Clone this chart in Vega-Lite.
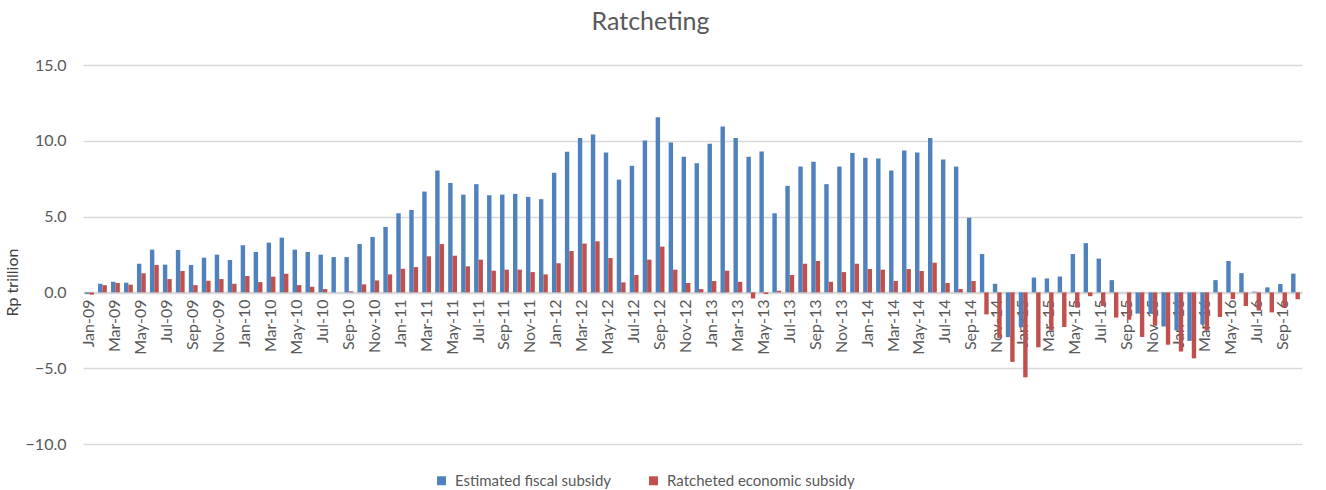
{
  "$schema": "https://vega.github.io/schema/vega-lite/v6.json",
  "width": 1219,
  "height": 379,
  "autosize": "none",
  "padding": {"left": 83, "top": 65, "right": 24, "bottom": 46},
  "background": "white",
  "title": {"text": "Ratcheting", "fontSize": 25, "font": "Lato", "color": "#595959", "fontWeight": "normal", "anchor": "middle", "offset": 22, "dx": -42},
  "config": {"view": {"stroke": null}, "font": "Lato"},
  "data": {"values": [
    {"month": "Jan-09", "Estimated fiscal subsidy": -0.1, "Ratcheted economic subsidy": -0.15},
    {"month": "Feb-09", "Estimated fiscal subsidy": 0.57, "Ratcheted economic subsidy": 0.48},
    {"month": "Mar-09", "Estimated fiscal subsidy": 0.70, "Ratcheted economic subsidy": 0.62},
    {"month": "Apr-09", "Estimated fiscal subsidy": 0.64, "Ratcheted economic subsidy": 0.51},
    {"month": "May-09", "Estimated fiscal subsidy": 1.89, "Ratcheted economic subsidy": 1.26},
    {"month": "Jun-09", "Estimated fiscal subsidy": 2.82, "Ratcheted economic subsidy": 1.81},
    {"month": "Jul-09", "Estimated fiscal subsidy": 1.83, "Ratcheted economic subsidy": 0.88},
    {"month": "Aug-09", "Estimated fiscal subsidy": 2.80, "Ratcheted economic subsidy": 1.41},
    {"month": "Sep-09", "Estimated fiscal subsidy": 1.81, "Ratcheted economic subsidy": 0.48},
    {"month": "Oct-09", "Estimated fiscal subsidy": 2.29, "Ratcheted economic subsidy": 0.77},
    {"month": "Nov-09", "Estimated fiscal subsidy": 2.49, "Ratcheted economic subsidy": 0.88},
    {"month": "Dec-09", "Estimated fiscal subsidy": 2.14, "Ratcheted economic subsidy": 0.57},
    {"month": "Jan-10", "Estimated fiscal subsidy": 3.11, "Ratcheted economic subsidy": 1.08},
    {"month": "Feb-10", "Estimated fiscal subsidy": 2.67, "Ratcheted economic subsidy": 0.68},
    {"month": "Mar-10", "Estimated fiscal subsidy": 3.28, "Ratcheted economic subsidy": 1.04},
    {"month": "Apr-10", "Estimated fiscal subsidy": 3.61, "Ratcheted economic subsidy": 1.23},
    {"month": "May-10", "Estimated fiscal subsidy": 2.82, "Ratcheted economic subsidy": 0.48},
    {"month": "Jun-10", "Estimated fiscal subsidy": 2.67, "Ratcheted economic subsidy": 0.37},
    {"month": "Jul-10", "Estimated fiscal subsidy": 2.49, "Ratcheted economic subsidy": 0.22},
    {"month": "Aug-10", "Estimated fiscal subsidy": 2.33, "Ratcheted economic subsidy": 0.0},
    {"month": "Sep-10", "Estimated fiscal subsidy": 2.33, "Ratcheted economic subsidy": 0.07},
    {"month": "Oct-10", "Estimated fiscal subsidy": 3.19, "Ratcheted economic subsidy": 0.53},
    {"month": "Nov-10", "Estimated fiscal subsidy": 3.66, "Ratcheted economic subsidy": 0.79},
    {"month": "Dec-10", "Estimated fiscal subsidy": 4.32, "Ratcheted economic subsidy": 1.19},
    {"month": "Jan-11", "Estimated fiscal subsidy": 5.22, "Ratcheted economic subsidy": 1.56},
    {"month": "Feb-11", "Estimated fiscal subsidy": 5.44, "Ratcheted economic subsidy": 1.67},
    {"month": "Mar-11", "Estimated fiscal subsidy": 6.65, "Ratcheted economic subsidy": 2.38},
    {"month": "Apr-11", "Estimated fiscal subsidy": 8.04, "Ratcheted economic subsidy": 3.19},
    {"month": "May-11", "Estimated fiscal subsidy": 7.22, "Ratcheted economic subsidy": 2.42},
    {"month": "Jun-11", "Estimated fiscal subsidy": 6.45, "Ratcheted economic subsidy": 1.72},
    {"month": "Jul-11", "Estimated fiscal subsidy": 7.14, "Ratcheted economic subsidy": 2.16},
    {"month": "Aug-11", "Estimated fiscal subsidy": 6.41, "Ratcheted economic subsidy": 1.43},
    {"month": "Sep-11", "Estimated fiscal subsidy": 6.45, "Ratcheted economic subsidy": 1.50},
    {"month": "Oct-11", "Estimated fiscal subsidy": 6.50, "Ratcheted economic subsidy": 1.50},
    {"month": "Nov-11", "Estimated fiscal subsidy": 6.30, "Ratcheted economic subsidy": 1.34},
    {"month": "Dec-11", "Estimated fiscal subsidy": 6.15, "Ratcheted economic subsidy": 1.19},
    {"month": "Jan-12", "Estimated fiscal subsidy": 7.89, "Ratcheted economic subsidy": 1.92},
    {"month": "Feb-12", "Estimated fiscal subsidy": 9.27, "Ratcheted economic subsidy": 2.73},
    {"month": "Mar-12", "Estimated fiscal subsidy": 10.18, "Ratcheted economic subsidy": 3.22},
    {"month": "Apr-12", "Estimated fiscal subsidy": 10.42, "Ratcheted economic subsidy": 3.37},
    {"month": "May-12", "Estimated fiscal subsidy": 9.23, "Ratcheted economic subsidy": 2.27},
    {"month": "Jun-12", "Estimated fiscal subsidy": 7.44, "Ratcheted economic subsidy": 0.66},
    {"month": "Jul-12", "Estimated fiscal subsidy": 8.35, "Ratcheted economic subsidy": 1.15},
    {"month": "Aug-12", "Estimated fiscal subsidy": 10.02, "Ratcheted economic subsidy": 2.16},
    {"month": "Sep-12", "Estimated fiscal subsidy": 11.56, "Ratcheted economic subsidy": 3.02},
    {"month": "Oct-12", "Estimated fiscal subsidy": 9.89, "Ratcheted economic subsidy": 1.50},
    {"month": "Nov-12", "Estimated fiscal subsidy": 8.94, "Ratcheted economic subsidy": 0.62},
    {"month": "Dec-12", "Estimated fiscal subsidy": 8.52, "Ratcheted economic subsidy": 0.22},
    {"month": "Jan-13", "Estimated fiscal subsidy": 9.80, "Ratcheted economic subsidy": 0.75},
    {"month": "Feb-13", "Estimated fiscal subsidy": 10.95, "Ratcheted economic subsidy": 1.43},
    {"month": "Mar-13", "Estimated fiscal subsidy": 10.18, "Ratcheted economic subsidy": 0.70},
    {"month": "Apr-13", "Estimated fiscal subsidy": 8.94, "Ratcheted economic subsidy": -0.40},
    {"month": "May-13", "Estimated fiscal subsidy": 9.30, "Ratcheted economic subsidy": -0.11},
    {"month": "Jun-13", "Estimated fiscal subsidy": 5.22, "Ratcheted economic subsidy": 0.11},
    {"month": "Jul-13", "Estimated fiscal subsidy": 7.03, "Ratcheted economic subsidy": 1.15},
    {"month": "Aug-13", "Estimated fiscal subsidy": 8.30, "Ratcheted economic subsidy": 1.89},
    {"month": "Sep-13", "Estimated fiscal subsidy": 8.61, "Ratcheted economic subsidy": 2.07},
    {"month": "Oct-13", "Estimated fiscal subsidy": 7.14, "Ratcheted economic subsidy": 0.70},
    {"month": "Nov-13", "Estimated fiscal subsidy": 8.30, "Ratcheted economic subsidy": 1.34},
    {"month": "Dec-13", "Estimated fiscal subsidy": 9.19, "Ratcheted economic subsidy": 1.89},
    {"month": "Jan-14", "Estimated fiscal subsidy": 8.88, "Ratcheted economic subsidy": 1.54},
    {"month": "Feb-14", "Estimated fiscal subsidy": 8.83, "Ratcheted economic subsidy": 1.50},
    {"month": "Mar-14", "Estimated fiscal subsidy": 8.04, "Ratcheted economic subsidy": 0.75},
    {"month": "Apr-14", "Estimated fiscal subsidy": 9.36, "Ratcheted economic subsidy": 1.54},
    {"month": "May-14", "Estimated fiscal subsidy": 9.23, "Ratcheted economic subsidy": 1.41},
    {"month": "Jun-14", "Estimated fiscal subsidy": 10.18, "Ratcheted economic subsidy": 1.96},
    {"month": "Jul-14", "Estimated fiscal subsidy": 8.77, "Ratcheted economic subsidy": 0.62},
    {"month": "Aug-14", "Estimated fiscal subsidy": 8.30, "Ratcheted economic subsidy": 0.22},
    {"month": "Sep-14", "Estimated fiscal subsidy": 4.93, "Ratcheted economic subsidy": 0.75},
    {"month": "Oct-14", "Estimated fiscal subsidy": 2.53, "Ratcheted economic subsidy": -1.45},
    {"month": "Nov-14", "Estimated fiscal subsidy": 0.57, "Ratcheted economic subsidy": -3.0},
    {"month": "Dec-14", "Estimated fiscal subsidy": -2.95, "Ratcheted economic subsidy": -4.58},
    {"month": "Jan-15", "Estimated fiscal subsidy": -2.3, "Ratcheted economic subsidy": -5.6},
    {"month": "Feb-15", "Estimated fiscal subsidy": 0.98, "Ratcheted economic subsidy": -3.62},
    {"month": "Mar-15", "Estimated fiscal subsidy": 0.92, "Ratcheted economic subsidy": -2.5},
    {"month": "Apr-15", "Estimated fiscal subsidy": 1.05, "Ratcheted economic subsidy": -2.28},
    {"month": "May-15", "Estimated fiscal subsidy": 2.53, "Ratcheted economic subsidy": -1.0},
    {"month": "Jun-15", "Estimated fiscal subsidy": 3.25, "Ratcheted economic subsidy": -0.25},
    {"month": "Jul-15", "Estimated fiscal subsidy": 2.23, "Ratcheted economic subsidy": -0.9},
    {"month": "Aug-15", "Estimated fiscal subsidy": 0.81, "Ratcheted economic subsidy": -1.66},
    {"month": "Sep-15", "Estimated fiscal subsidy": 0.0, "Ratcheted economic subsidy": -1.8},
    {"month": "Oct-15", "Estimated fiscal subsidy": -1.40, "Ratcheted economic subsidy": -2.94},
    {"month": "Nov-15", "Estimated fiscal subsidy": -1.40, "Ratcheted economic subsidy": -2.2},
    {"month": "Dec-15", "Estimated fiscal subsidy": -2.25, "Ratcheted economic subsidy": -3.45},
    {"month": "Jan-16", "Estimated fiscal subsidy": -2.5, "Ratcheted economic subsidy": -3.9},
    {"month": "Feb-16", "Estimated fiscal subsidy": -3.2, "Ratcheted economic subsidy": -4.35},
    {"month": "Mar-16", "Estimated fiscal subsidy": -2.11, "Ratcheted economic subsidy": -2.5},
    {"month": "Apr-16", "Estimated fiscal subsidy": 0.81, "Ratcheted economic subsidy": -1.62},
    {"month": "May-16", "Estimated fiscal subsidy": 2.07, "Ratcheted economic subsidy": -0.44},
    {"month": "Jun-16", "Estimated fiscal subsidy": 1.27, "Ratcheted economic subsidy": -0.9},
    {"month": "Jul-16", "Estimated fiscal subsidy": 0.05, "Ratcheted economic subsidy": -1.2},
    {"month": "Aug-16", "Estimated fiscal subsidy": 0.33, "Ratcheted economic subsidy": -1.32},
    {"month": "Sep-16", "Estimated fiscal subsidy": 0.55, "Ratcheted economic subsidy": -1.0},
    {"month": "Oct-16", "Estimated fiscal subsidy": 1.24, "Ratcheted economic subsidy": -0.45}
  ]},
  "transform": [
    {"fold": ["Estimated fiscal subsidy", "Ratcheted economic subsidy"], "as": ["series", "value"]}
  ],
  "mark": {"type": "bar"},
  "encoding": {
    "x": {
      "field": "month", "type": "ordinal", "sort": null,
      "scale": {"paddingInner": 0.32, "paddingOuter": 0.16},
      "axis": {
        "title": null, "offset": -151, "labelAngle": -90, "ticks": false,
        "labelPadding": 6, "labelFontSize": 16, "labelColor": "#595959",
        "domainColor": "#D9D9D9", "domainWidth": 1.5, "grid": false,
        "labelExpr": "test(/^(Jan|Mar|May|Jul|Sep|Nov)/, datum.label) ? datum.label : ''"
      }
    },
    "xOffset": {"field": "series", "type": "nominal"},
    "y": {
      "field": "value", "type": "quantitative",
      "scale": {"domain": [-10, 15], "nice": false},
      "axis": {
        "values": [-10, -5, 0, 5, 10, 15], "format": ".1f", "domain": false, "ticks": false,
        "labelPadding": 17, "labelFontSize": 16, "labelColor": "#595959",
        "gridColor": "#D9D9D9", "gridWidth": 1.5,
        "title": "Rp trillion", "titleFontSize": 16, "titleFontWeight": "normal", "titleColor": "#404040",
        "titleX": -63, "titleY": 217
      }
    },
    "color": {
      "field": "series", "type": "nominal",
      "scale": {"domain": ["Estimated fiscal subsidy", "Ratcheted economic subsidy"], "range": ["#4F81BD", "#C0504D"]},
      "legend": {
        "title": null, "orient": "none", "legendX": 351, "legendY": 408, "direction": "horizontal",
        "symbolType": "square", "symbolSize": 80, "labelFontSize": 15, "labelColor": "#595959",
        "labelLimit": 400, "columnPadding": 34, "labelOffset": 6
      }
    }
  }
}
